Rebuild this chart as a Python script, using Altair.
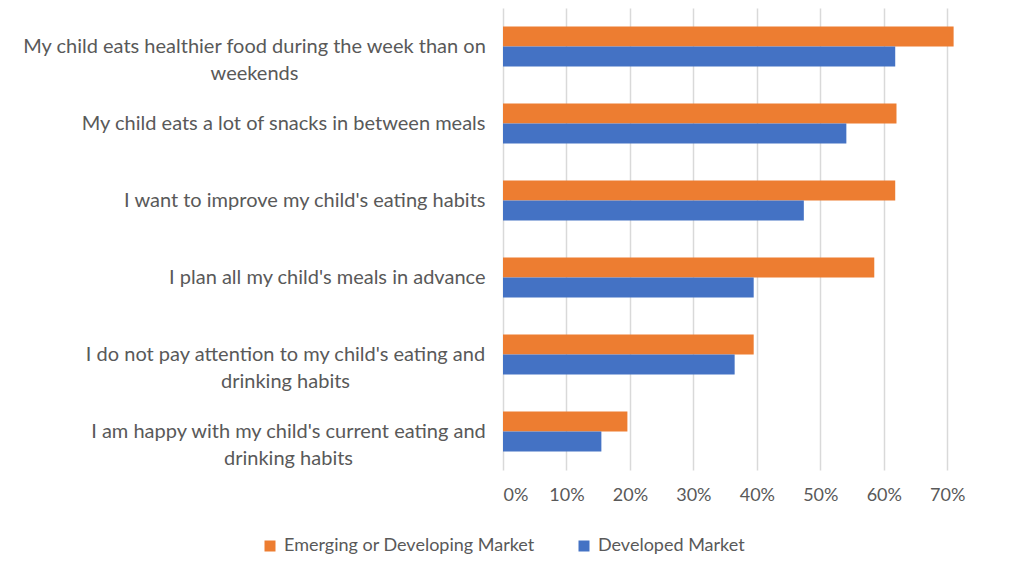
import json
import altair as alt
import pandas as pd

categories = [
    "My child eats healthier food during the week than on weekends",
    "My child eats a lot of snacks in between meals",
    "I want to improve my child's eating habits",
    "I plan all my child's meals in advance",
    "I do not pay attention to my child's eating and drinking habits",
    "I am happy with my child's current eating and drinking habits",
]
label_lines = [
    ["My child eats healthier food during the week than on", "weekends"],
    ["My child eats a lot of snacks in between meals"],
    ["I want to improve my child's eating habits"],
    ["I plan all my child's meals in advance"],
    ["I do not pay attention to my child's eating and", "drinking habits"],
    ["I am happy with my child's current eating and", "drinking habits"],
]
series = ["Emerging or Developing Market", "Developed Market"]
emerging = [0.71, 0.62, 0.618, 0.585, 0.395, 0.196]
developed = [0.618, 0.541, 0.474, 0.395, 0.365, 0.155]
colors = ["#ED7D31", "#4472C4"]
tick_values = [0, 0.1, 0.2, 0.3, 0.4, 0.5, 0.6, 0.7]

rows = []
for c, e, d in zip(categories, emerging, developed):
    rows.append({"question": c, "market": series[0], "share": e})
    rows.append({"question": c, "market": series[1], "share": d})
df = pd.DataFrame(rows)

mapping = {c: l for c, l in zip(categories, label_lines)}
label_expr = f"{json.dumps(mapping)}[datum.value] || datum.value"

FONT = "Lato"
GREY = "#595959"
PAD = 18

# wrapped labels are centred like in the original; padding = PAD + half width of first line
wrapped = [
    ("weekends", 231),
    ("pay attention", 200),
    ("am happy", 197),
]
pad_cond = [
    {"test": f"indexof(datum.value, '{key}') >= 0", "value": PAD + hw} for key, hw in wrapped
]
align_cond = [
    {"test": f"indexof(datum.value, '{key}') >= 0", "value": "center"} for key, hw in wrapped
]

chart = (
    alt.Chart(df)
    .mark_bar(strokeWidth=0)
    .encode(
        y=alt.Y(
            "question:N",
            sort=categories,
            title=None,
            scale=alt.Scale(paddingInner=0.48, paddingOuter=0.24),
            axis=alt.Axis(
                labelExpr=label_expr,
                labelFont=FONT,
                labelFontSize=20,
                labelColor=GREY,
                labelLineHeight=27,
                labelPadding={"condition": pad_cond, "value": PAD},
                labelAlign={"condition": align_cond, "value": "right"},
                labelLimit=700,
                ticks=False,
                domain=False,
                grid=False,
            ),
        ),
        yOffset=alt.YOffset("market:N", sort=series),
        x=alt.X(
            "share:Q",
            title=None,
            scale=alt.Scale(domain=[0, 0.75], nice=False),
            axis=alt.Axis(
                values=tick_values,
                format=".0%",
                labelFont=FONT,
                labelFontSize=18,
                labelColor=GREY,
                labelPadding=16,
                ticks=False,
                domain=False,
                grid=True,
                gridColor="#D9D9D9",
                gridWidth=1.5,
            ),
        ),
        color=alt.Color(
            "market:N",
            sort=series,
            scale=alt.Scale(domain=series, range=colors),
            legend=alt.Legend(
                orient="none",
                legendX=-242,
                legendY=529,
                direction="horizontal",
                title=None,
                labelFont=FONT,
                labelFontSize=18,
                labelColor=GREY,
                labelLimit=400,
                labelOffset=5,
                symbolType="square",
                symbolSize=121,
                symbolStrokeWidth=0,
                columnPadding=40,
            ),
        ),
    )
    .properties(width=476, height=462, padding={"left": 14, "top": 0, "right": 5, "bottom": 5})
    .configure_view(stroke=None)
)

chart.save("out.html", embed_options={"renderer": "svg", "actions": False})
